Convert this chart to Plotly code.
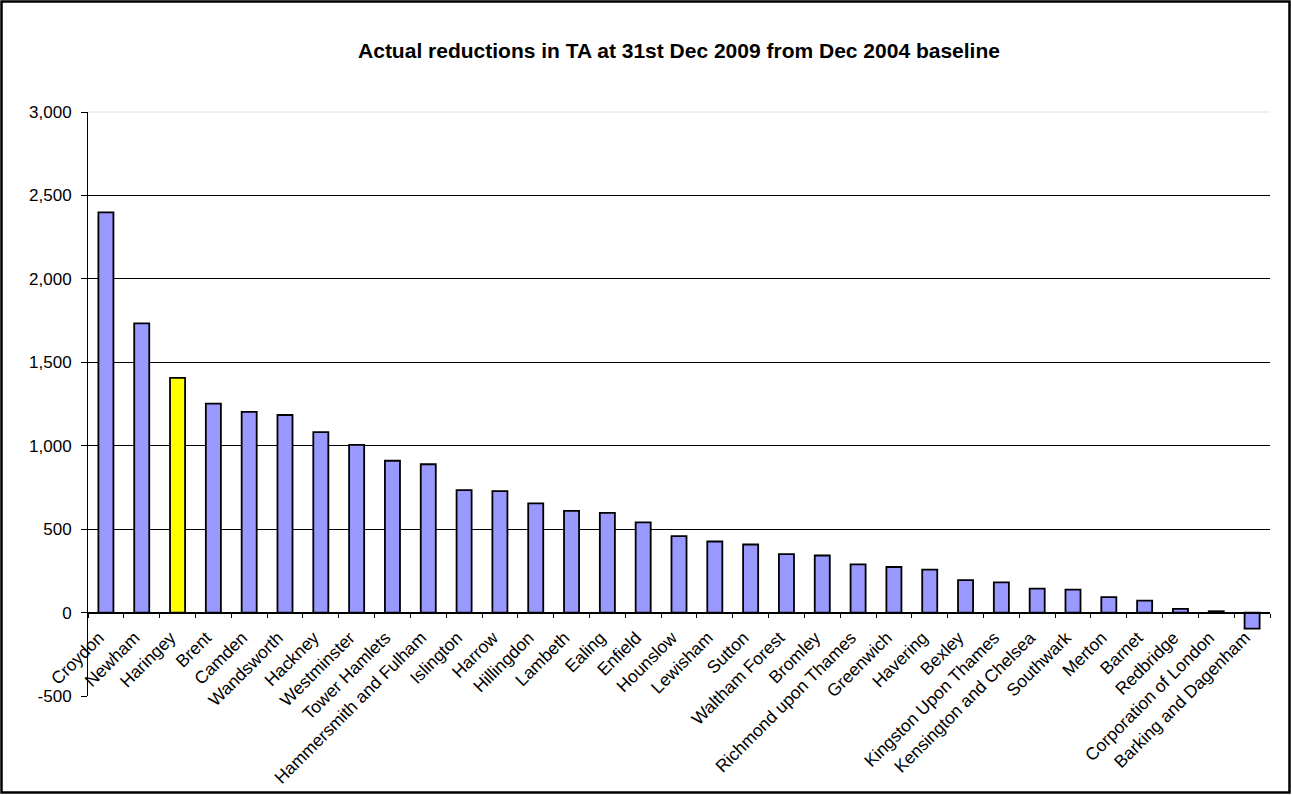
import plotly.graph_objects as go

boroughs = ["Croydon", "Newham", "Haringey", "Brent", "Camden", "Wandsworth", "Hackney",
            "Westminster", "Tower Hamlets", "Hammersmith and Fulham", "Islington", "Harrow",
            "Hillingdon", "Lambeth", "Ealing", "Enfield", "Hounslow", "Lewisham", "Sutton",
            "Waltham Forest", "Bromley", "Richmond upon Thames", "Greenwich", "Havering",
            "Bexley", "Kingston Upon Thames", "Kensington and Chelsea", "Southwark", "Merton",
            "Barnet", "Redbridge", "Corporation of London", "Barking and Dagenham"]
reductions = [2398, 1733, 1407, 1252, 1203, 1184, 1081,
              1005, 910, 889, 734, 728,
              654, 610, 598, 540, 458, 426, 408,
              350, 342, 289, 273, 257,
              194, 181, 143, 137, 92,
              72, 22, 8, -96]
highlight = "Haringey"
y_ticks = [-500, 0, 500, 1000, 1500, 2000, 2500, 3000]
y_tick_text = ["-500", "0", "500", "1,000", "1,500", "2,000", "2,500", "3,000"]

colors = ["#FFFF00" if b == highlight else "#9999FF" for b in boroughs]

W, H = 1292, 795
ML, MR, MT, MB = 88, 22, 112, 99
PW, PH = W - ML - MR, H - MT - MB
FONT = "Arial, Liberation Sans, sans-serif"

fig = go.Figure(go.Bar(
    x=boroughs, y=reductions,
    marker=dict(color=colors, line=dict(color="#000000", width=1.8)),
    width=0.42,
))

fig.update_layout(
    width=W, height=H,
    margin=dict(l=ML, r=MR, t=MT, b=MB, pad=0, autoexpand=False),
    paper_bgcolor="#FFFFFF", plot_bgcolor="#FFFFFF",
    showlegend=False,
    font=dict(family=FONT, size=17, color="#000000"),
    title=dict(text="<b>Actual reductions in TA at 31st Dec 2009 from Dec 2004 baseline</b>",
               x=0.5, xref="paper", xanchor="center", y=1 - 51 / H, yanchor="middle",
               font=dict(size=21, family=FONT)),
    xaxis=dict(
        type="category", automargin=False,
        anchor="free", position=500 / 3500,
        showline=True, linecolor="#000000", linewidth=1,
        ticks="outside", ticklen=4, tickcolor="#000000", tickson="boundaries",
        tickangle=-45, tickfont=dict(size=17.5), ticklabelstandoff=7, ticklabelshift=-7,
        showgrid=False, zeroline=False,
    ),
    yaxis=dict(
        range=[-500, 3000], automargin=False,
        tickvals=y_ticks, ticktext=y_tick_text,
        showline=True, linecolor="#000000", linewidth=1,
        ticks="outside", ticklen=6, tickcolor="#000000",
        tickfont=dict(size=17), ticklabelstandoff=6,
        showgrid=True, gridcolor="#000000", gridwidth=1,
        zeroline=False,
    ),
    shapes=[
        dict(type="line", xref="paper", yref="paper", x0=0, x1=1, y0=1, y1=1,
             line=dict(color="#E0E0E0", width=1), layer="above"),
        dict(type="rect", xref="paper", yref="paper",
             x0=-(ML - 1.5) / PW, x1=1 + (MR - 2.5) / PW,
             y0=-(MB - 2.5) / PH, y1=1 + (MT - 1.5) / PH,
             line=dict(color="#000000", width=2.5), fillcolor="rgba(0,0,0,0)",
             layer="above"),
    ],
)

fig.write_html("out.html", config={"displayModeBar": False},
               post_script="document.body.style.margin='0';document.body.style.overflow='hidden';")
